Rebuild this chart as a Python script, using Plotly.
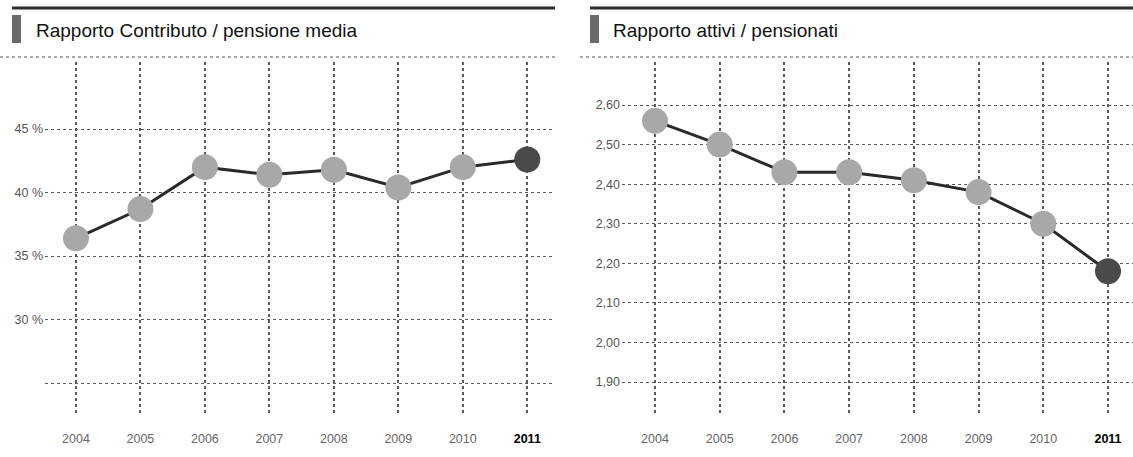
import plotly.graph_objects as go

W, H = 1133, 457

years = [2004, 2005, 2006, 2007, 2008, 2009, 2010, 2011]
year_labels = ["2004", "2005", "2006", "2007", "2008", "2009", "2010", "2011"]
contributo_pct = [36.4, 38.7, 42.0, 41.4, 41.8, 40.4, 42.0, 42.6]
attivi_pensionati = [2.56, 2.50, 2.43, 2.43, 2.41, 2.38, 2.30, 2.18]

left_title = "Rapporto Contributo / pensione media"
right_title = "Rapporto attivi / pensionati"

left_tickvals = [25, 30, 35, 40, 45]
left_ticktext = ["", "30 %", "35 %", "40 %", "45 %"]
right_tickvals = [1.90, 2.00, 2.10, 2.20, 2.30, 2.40, 2.50, 2.60]
right_ticktext = ["1,90", "2,00", "2,10", "2,20", "2,30", "2,40", "2,50", "2,60"]

FONT = "Liberation Sans, Arial, Helvetica, sans-serif"
GRID = "#5a5a5a"
MARK = "#a8a8a8"
LAST = "#4a4a4a"
LINE = "#2a2a2a"


def px(x):
    return x / W


def py(y):
    return 1 - y / H


x_text = [
    (f"<b><span style='color:#000'>{t}</span></b>" if i == len(year_labels) - 1 else t)
    for i, t in enumerate(year_labels)
]

fig = go.Figure()

for vals, xa, ya in [(contributo_pct, "x", "y"), (attivi_pensionati, "x2", "y2")]:
    fig.add_trace(go.Scatter(
        x=years, y=vals, xaxis=xa, yaxis=ya, mode="lines",
        line=dict(color=LINE, width=3), hoverinfo="skip", showlegend=False,
    ))
    fig.add_trace(go.Scatter(
        x=years, y=vals, xaxis=xa, yaxis=ya, mode="markers",
        marker=dict(size=26, color=[MARK] * (len(vals) - 1) + [LAST],
                    line=dict(width=0)),
        showlegend=False,
    ))

common_x = dict(
    tickmode="array", tickvals=years, ticktext=x_text,
    showgrid=True, gridcolor=GRID, griddash="dot", gridwidth=1.5,
    zeroline=False, showline=False, ticks="",
    tickfont=dict(family=FONT, size=12.5, color="#666"),
    ticklabelstandoff=16,
)
common_y = dict(
    tickmode="array", showgrid=True, gridcolor=GRID, griddash="dot",
    gridwidth=1.2, zeroline=False, showline=False, ticks="",
    tickfont=dict(family=FONT, size=12.5, color="#555"),
    ticklabelstandoff=1,
)

y_dom = [py(413), py(62)]

fig.update_layout(
    width=W, height=H, margin=dict(l=0, r=0, t=0, b=0),
    paper_bgcolor="white", plot_bgcolor="white",
    xaxis=dict(domain=[px(45), px(555)], range=[2003.52, 2011.43], anchor="y", **common_x),
    yaxis=dict(domain=y_dom, range=[22.64, 50.28], anchor="x",
               tickvals=left_tickvals, ticktext=left_ticktext, **common_y),
    xaxis2=dict(domain=[px(622), px(1133)], range=[2003.49, 2011.386], anchor="y2", **common_x),
    yaxis2=dict(domain=y_dom, range=[1.8217, 2.7087], anchor="x2",
                tickvals=right_tickvals, ticktext=right_ticktext, **common_y),
)

shapes = []
annotations = []
for (x0, x1, icon_x, text_x, title) in [
    (12, 555, 12, 34, left_title),
    (590, 1133, 590, 611, right_title),
]:
    # thick top rule
    shapes.append(dict(type="line", xref="paper", yref="paper",
                       x0=px(x0), x1=px(x1), y0=py(8), y1=py(8),
                       line=dict(color="#2e2e2e", width=3)))
    # dotted divider under title
    shapes.append(dict(type="line", xref="paper", yref="paper",
                       x0=px(x0 - 10 if x0 > 12 else 0), x1=px(x1), y0=py(57), y1=py(57),
                       line=dict(color="#555", width=1.2, dash="dot")))
    # small icon
    shapes.append(dict(type="rect", xref="paper", yref="paper",
                       x0=px(icon_x), x1=px(icon_x + 9), y0=py(43), y1=py(15),
                       fillcolor="#6a6a6a", line=dict(width=0)))
    annotations.append(dict(xref="paper", yref="paper", x=px(text_x), y=py(31),
                            xanchor="left", yanchor="middle", showarrow=False,
                            text=title, font=dict(family=FONT, size=19, color="#111")))

fig.update_layout(shapes=shapes, annotations=annotations)

fig.write_html("out.html")
